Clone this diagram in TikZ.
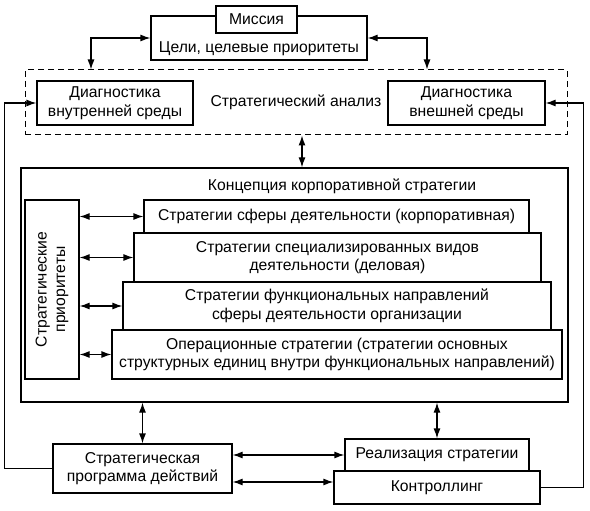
\documentclass[tikz,border=0pt]{standalone}
\usepackage{fontspec}
\setmainfont{Liberation Sans}
\usetikzlibrary{positioning}
\usetikzlibrary{arrows.meta}
\tikzset{every picture/.style={line width=1.2pt},>={Latex[length=10pt,width=7pt]}}
\begin{document}
\begin{tikzpicture}[x=1pt,y=-1pt,bx/.style={draw,fill=white,align=center,inner xsep=2pt},dbx/.style={draw,dash pattern=on 6pt off 4pt,line width=1pt},every node/.style={font=\fontsize{15.7}{18.5}\selectfont}]
\useasboundingbox (0,0) rectangle (590,511);
\node (goals) [bx,anchor=base,text height=36.5pt,text depth=7.5pt,inner ysep=0pt,minimum width=216pt] at (259,52.5) {Цели, целевые приоритеты};
\node (mission) [bx,minimum width=81pt,minimum height=27pt] at (256.5,19.5) {Миссия};
\node (analysis) [dbx,minimum width=542pt,minimum height=65pt] at (296,102.5) {Стратегический анализ};
\node (int) [bx,minimum width=156pt,minimum height=44pt] at (115,103) {Диагностика\\внутренней среды};
\node (ext) [bx,minimum width=157pt,minimum height=44pt] at (466.5,103) {Диагностика\\внешней среды};
\node (conc) [draw,minimum width=547pt,minimum height=234pt] at (294.5,285) {};
\node (ctitle) at (342,186) {Концепция корпоративной стратегии};
\node (prio) [bx,rotate=90,minimum width=179pt,minimum height=54pt] at (52,289.5) {Стратегические\\приоритеты};
\node (s1) [bx,minimum width=385pt,minimum height=33pt] at (336.5,216.5) {Стратегии сферы деятельности (корпоративная)};
\node (s2) [bx,minimum width=407pt,minimum height=49pt] at (337.5,257.5) {Стратегии специализированных видов\\деятельности (деловая)};
\node (s3) [bx,minimum width=428pt,minimum height=48pt] at (337,306) {Стратегии функциональных направлений\\сферы деятельности организации};
\node (s4) [bx,minimum width=450pt,minimum height=49pt] at (337,354.5) {Операционные стратегии (стратегии основных\\структурных единиц внутри функциональных направлений)};
\node (prog) [bx,minimum width=179pt,minimum height=49pt] at (142.5,468.5) {Стратегическая\\программа действий};
\node (real) [bx,minimum width=184pt,minimum height=32pt] at (437,455) {Реализация стратегии};
\node (contr) [bx,minimum width=206pt,minimum height=33pt] at (437,487.5) {Контроллинг};
\coordinate (cin) at ([yshift=5.5pt]contr.west);
% goals and analysis
\draw[<->] (goals.west) -| ([xshift=-205pt]analysis.north);
\draw[<->] (goals.east) -| ([xshift=131pt]analysis.north);
\draw[<->] ([xshift=6pt]analysis.south) -- ([xshift=6pt]analysis.south |- conc.north);
% feedback loops
\draw[->] (prog.west) -- ++(-48,0) |- (int.west);
\draw[->] (contr.east) -- ++(43,0) |- (ext.east);
% priorities
\foreach \s in {s1,s2,s3,s4}
  \draw[<->] (prio.south |- \s.west) -- (\s.west);
% bottom
\draw[<->] (conc.south -| prog.north) -- (prog.north);
\draw[<->] (conc.south -| real.north) -- (real.north);
\draw[<->] (prog.east |- real.west) -- (real.west);
\draw[<->] (prog.east |- cin) -- (cin);
\end{tikzpicture}
\end{document}
